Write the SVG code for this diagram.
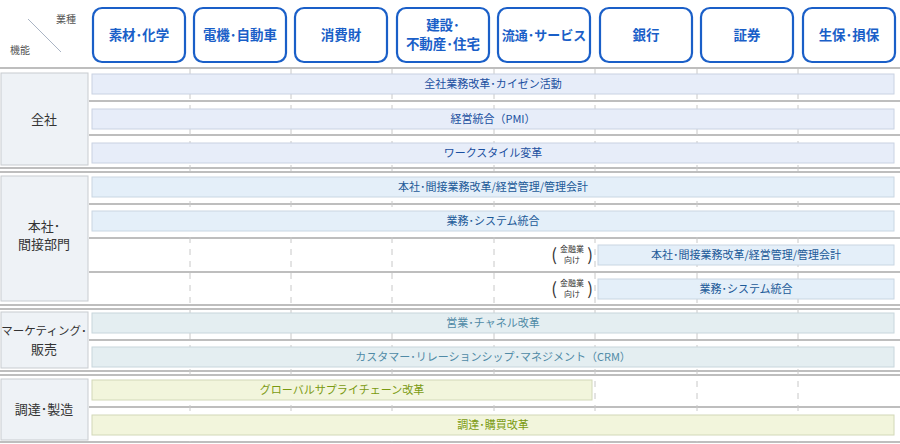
<svg xmlns="http://www.w3.org/2000/svg" width="900" height="444" viewBox="0 0 900 444">
<style>
text{font-family:"Noto Sans CJK JP","Noto Sans",sans-serif}
.hd rect{fill:#fff;stroke:#1a5fc8;stroke-width:2.2}
.hd text{font-size:13.5px;font-weight:bold;fill:#1a5fc8;text-anchor:middle}
.lc{fill:#eef2f6;stroke:#c8ccd0}
.lt{font-size:13px;fill:#333;text-anchor:middle}
.hl{stroke:#a8a8a8;stroke-width:1.5}
.vl{stroke:#c8c8c8;stroke-width:1;stroke-dasharray:6 6}
.b1{fill:#e7edf9;stroke:#c9d2e2}
.b2{fill:#e4eff9;stroke:#c9d6e2}
.b3{fill:#e4eef1;stroke:#c8d6dc}
.b4{fill:#f2f5dc;stroke:#d2d8b8}
.t1{font-size:11px;fill:#1a4fa0;text-anchor:middle}
.t2{font-size:11px;fill:#1c5a98;text-anchor:middle}
.t3{font-size:11px;fill:#4f8aa6;text-anchor:middle}
.t4{font-size:11px;fill:#7a9a10;text-anchor:middle}
.sm{font-size:8px;fill:#333;text-anchor:middle}
.pr{font-size:17px;fill:#333;text-anchor:middle}
</style>
<g id="corner">
<line x1="28" y1="19" x2="61" y2="52" stroke="#aab4c4" stroke-width="1"/>
<text x="66" y="23" font-size="10" fill="#555" text-anchor="middle">業種</text>
<text x="20" y="54" font-size="10" fill="#555" text-anchor="middle">機能</text>
</g>
<g class="hd" id="header">
<g id="h1"><rect x="93" y="8" width="92" height="54" rx="9"/><text x="139" y="40">素材･化学</text></g>
<g id="h2"><rect x="194" y="8" width="92" height="54" rx="9"/><text x="240" y="40">電機･自動車</text></g>
<g id="h3"><rect x="295" y="8" width="92" height="54" rx="9"/><text x="341" y="40">消費財</text></g>
<g id="h4"><rect x="397" y="8" width="92" height="54" rx="9"/><text x="443" y="30">建設･</text><text x="443" y="49">不動産･住宅</text></g>
<g id="h5"><rect x="498" y="8" width="92" height="54" rx="9"/><text x="544" y="40" style="font-size:13px">流通･サービス</text></g>
<g id="h6"><rect x="600" y="8" width="92" height="54" rx="9"/><text x="646" y="40">銀行</text></g>
<g id="h7"><rect x="701" y="8" width="92" height="54" rx="9"/><text x="747" y="40">証券</text></g>
<g id="h8"><rect x="803" y="8" width="92" height="54" rx="9"/><text x="849" y="40">生保･損保</text></g>
</g>
<g id="grid">
<line class="hl" x1="0" y1="68" x2="900" y2="68"/>
<line class="hl" x1="89" y1="101" x2="900" y2="101"/>
<line class="hl" x1="89" y1="135" x2="900" y2="135"/>
<line class="hl" x1="0" y1="168" x2="900" y2="168"/>
<line class="hl" x1="0" y1="172" x2="900" y2="172"/>
<line class="hl" x1="89" y1="204" x2="900" y2="204"/>
<line class="hl" x1="89" y1="238" x2="900" y2="238"/>
<line class="hl" x1="89" y1="272" x2="900" y2="272"/>
<line class="hl" x1="0" y1="305" x2="900" y2="305"/>
<line class="hl" x1="0" y1="309" x2="900" y2="309"/>
<line class="hl" x1="89" y1="340" x2="900" y2="340"/>
<line class="hl" x1="0" y1="371" x2="900" y2="371"/>
<line class="hl" x1="0" y1="375" x2="900" y2="375"/>
<line class="hl" x1="89" y1="407" x2="900" y2="407"/>
<line class="hl" x1="0" y1="442" x2="900" y2="442"/>
<g class="vl">
<line x1="190" y1="69" x2="190" y2="442"/><line x1="291" y1="69" x2="291" y2="442"/>
<line x1="392" y1="69" x2="392" y2="442"/><line x1="494" y1="69" x2="494" y2="442"/>
<line x1="595" y1="69" x2="595" y2="442"/><line x1="697" y1="69" x2="697" y2="442"/>
<line x1="798" y1="69" x2="798" y2="442"/>
</g>
</g>
<g id="labels">
<g id="l1"><rect class="lc" x="1" y="73" width="87" height="92"/><text class="lt" x="44" y="124">全社</text></g>
<g id="l2"><rect class="lc" x="1" y="176" width="87" height="125"/><text class="lt" x="44" y="231">本社･</text><text class="lt" x="44" y="249">間接部門</text></g>
<g id="l3"><rect class="lc" x="1" y="312" width="87" height="56"/><text class="lt" x="44" y="335" style="font-size:11.5px">マーケティング･</text><text class="lt" x="44" y="354">販売</text></g>
<g id="l4"><rect class="lc" x="1" y="379" width="87" height="61"/><text class="lt" x="44" y="414">調達･製造</text></g>
</g>
<g id="bars">
<g id="r1"><rect class="b1" x="92" y="74" width="802" height="20"/><text class="t1" x="493" y="88">全社業務改革･カイゼン活動</text></g>
<g id="r2"><rect class="b1" x="92" y="109" width="802" height="20"/><text class="t1" x="493" y="123">経営統合（PMI）</text></g>
<g id="r3"><rect class="b1" x="92" y="143" width="802" height="20"/><text class="t1" x="493" y="157">ワークスタイル変革</text></g>
<g id="r4"><rect class="b2" x="92" y="177" width="802" height="20"/><text class="t2" x="493" y="191">本社･間接業務改革/経営管理/管理会計</text></g>
<g id="r5"><rect class="b2" x="92" y="211" width="802" height="20"/><text class="t2" x="493" y="225">業務･システム統合</text></g>
<g id="r6"><rect class="b2" x="598" y="245" width="296" height="20"/><text class="t2" x="746" y="259">本社･間接業務改革/経営管理/管理会計</text>
<text class="pr" x="554" y="261">(</text><text class="pr" x="590" y="261">)</text><text class="sm" x="572" y="252">金融業</text><text class="sm" x="572" y="263">向け</text></g>
<g id="r7"><rect class="b2" x="598" y="279" width="296" height="20"/><text class="t2" x="746" y="293">業務･システム統合</text>
<text class="pr" x="554" y="295">(</text><text class="pr" x="590" y="295">)</text><text class="sm" x="572" y="286">金融業</text><text class="sm" x="572" y="297">向け</text></g>
<g id="r8"><rect class="b3" x="92" y="313" width="802" height="20"/><text class="t3" x="493" y="327">営業･チャネル改革</text></g>
<g id="r9"><rect class="b3" x="92" y="347" width="802" height="20"/><text class="t3" x="493" y="361">カスタマー･リレーションシップ･マネジメント（CRM）</text></g>
<g id="r10"><rect class="b4" x="92" y="380" width="500" height="20"/><text class="t4" x="342" y="394">グローバルサプライチェーン改革</text></g>
<g id="r11"><rect class="b4" x="92" y="415" width="802" height="20"/><text class="t4" x="493" y="429">調達･購買改革</text></g>
</g>
</svg>
